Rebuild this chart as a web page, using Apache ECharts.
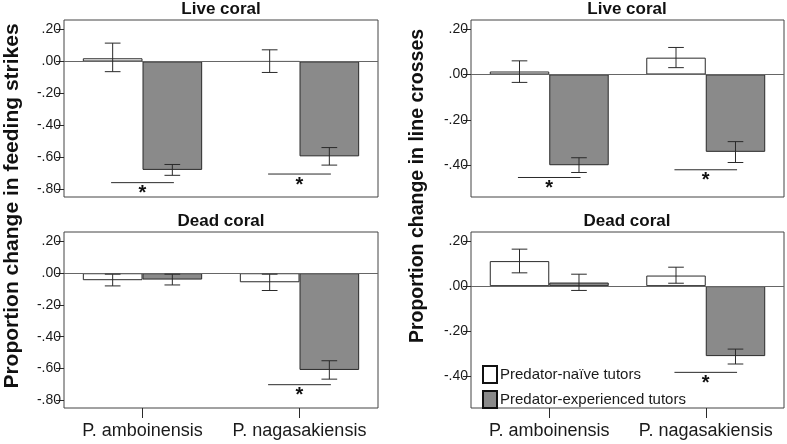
<!DOCTYPE html>
<html>
<head>
<meta charset="utf-8">
<script src="https://cdn.jsdelivr.net/npm/echarts@6/dist/echarts.min.js"></script>
<style>
  html, body { margin: 0; padding: 0; background: #fff; }
  #chart { width: 787px; height: 444px; }
</style>
</head>
<body>
<div id="chart"></div>
<script>
const categories = ['P. amboinensis', 'P. nagasakiensis']
const seriesNames = ['Predator-naïve tutors', 'Predator-experienced tutors']
const tickValuesLeft = [0.2, 0, -0.2, -0.4, -0.6, -0.8]
const tickValuesRight = [0.2, 0, -0.2, -0.4]

// feeding strikes
const feedLiveNaive = [0.02, 0.0]
const feedLiveNaiveErr = [[-0.064, 0.115], [-0.069, 0.073]]
const feedLiveExp = [-0.68, -0.595]
const feedLiveExpErr = [[-0.714, -0.646], [-0.65, -0.54]]
const feedLiveSig = [-0.76, -0.706]

const feedDeadNaive = [-0.044, -0.057]
const feedDeadNaiveErr = [[-0.08, -0.006], [-0.109, -0.006]]
const feedDeadExp = [-0.04, -0.61]
const feedDeadExpErr = [[-0.074, -0.006], [-0.668, -0.552]]
const feedDeadSig = [null, -0.703]

// line crosses
const crossLiveNaive = [0.013, 0.074]
const crossLiveNaiveErr = [[-0.035, 0.06], [0.03, 0.119]]
const crossLiveExp = [-0.40, -0.341]
const crossLiveExpErr = [[-0.432, -0.367], [-0.388, -0.296]]
const crossLiveSig = [-0.454, -0.42]

const crossDeadNaive = [0.111, 0.047]
const crossDeadNaiveErr = [[0.059, 0.164], [0.013, 0.084]]
const crossDeadExp = [0.016, -0.31]
const crossDeadExpErr = [[-0.019, 0.053], [-0.345, -0.279]]
const crossDeadSig = [null, -0.382]

const FONT = 'Liberation Sans, Arial, sans-serif'
const DARK = '#2a2a2a'

const panels = [
    { grid: { left: 64, top: 20, width: 314, height: 177 }, min: -0.85, max: 0.26, ticks: tickValuesLeft, bottom: false,
      naive: feedLiveNaive, naiveErr: feedLiveNaiveErr, exp: feedLiveExp, expErr: feedLiveExpErr, sig: feedLiveSig },
    { grid: { left: 64, top: 232, width: 314, height: 176 }, min: -0.85, max: 0.26, ticks: tickValuesLeft, bottom: true,
      naive: feedDeadNaive, naiveErr: feedDeadNaiveErr, exp: feedDeadExp, expErr: feedDeadExpErr, sig: feedDeadSig },
    { grid: { left: 471, top: 20, width: 313, height: 177 }, min: -0.54, max: 0.24, ticks: tickValuesRight, bottom: false,
      naive: crossLiveNaive, naiveErr: crossLiveNaiveErr, exp: crossLiveExp, expErr: crossLiveExpErr, sig: crossLiveSig },
    { grid: { left: 471, top: 232, width: 313, height: 176 }, min: -0.54, max: 0.24, ticks: tickValuesRight, bottom: true,
      naive: crossDeadNaive, naiveErr: crossDeadNaiveErr, exp: crossDeadExp, expErr: crossDeadExpErr, sig: crossDeadSig }
]

const fmtTick = v => v.toFixed(2).replace('0.', '.')

// error bar drawn through the category scale, side -1 = left bar, +1 = right bar
const errRender = side => (params, api) => {
    const band = api.size([1, 0])[0]
    const x = api.coord([api.value(0), 0])[0] + side * band * 0.19
    const lo = api.coord([api.value(0), api.value(1)])[1]
    const hi = api.coord([api.value(0), api.value(2)])[1]
    const cap = band * 0.05
    const st = { stroke: DARK, lineWidth: 1 }
    return {
        type: 'group',
        children: [
            { type: 'line', shape: { x1: x, y1: lo, x2: x, y2: hi }, style: st },
            { type: 'line', shape: { x1: x - cap, y1: lo, x2: x + cap, y2: lo }, style: st },
            { type: 'line', shape: { x1: x - cap, y1: hi, x2: x + cap, y2: hi }, style: st }
        ]
    }
}

const sigRender = (params, api) => {
    const band = api.size([1, 0])[0]
    const p = api.coord([api.value(0), api.value(1)])
    const half = band * 0.2
    return {
        type: 'group',
        children: [
            { type: 'line', shape: { x1: p[0] - half, y1: p[1], x2: p[0] + half, y2: p[1] }, style: { stroke: DARK, lineWidth: 1 } },
            { type: 'text', x: p[0], y: p[1] + 1, style: { text: '*', fill: '#111', font: 'bold 20px ' + FONT, textAlign: 'center', textVerticalAlign: 'top' } }
        ]
    }
}

const grids = []
const xAxes = []
const yAxes = []
const series = []

panels.forEach((p, i) => {
    grids.push(Object.assign({ show: true, borderColor: '#444', borderWidth: 1, backgroundColor: '#fff' }, p.grid))
    xAxes.push({
        type: 'category', gridIndex: i, data: categories,
        axisLine: { show: false, onZero: false },
        axisTick: { show: p.bottom, alignWithLabel: true, length: 10, lineStyle: { color: DARK } },
        axisLabel: { show: p.bottom, interval: 0, hideOverlap: false, fontFamily: FONT, fontSize: 18, color: '#1a1a1a', margin: 14 }
    })
    yAxes.push({
        type: 'value', gridIndex: i, min: p.min, max: p.max,
        axisLine: { show: false },
        splitLine: { show: false },
        axisTick: { show: true, length: 8, customValues: p.ticks, lineStyle: { color: DARK } },
        axisLabel: { customValues: p.ticks, formatter: fmtTick, fontFamily: FONT, fontSize: 14, color: '#1a1a1a', margin: 3 }
    })
    series.push({
        name: seriesNames[0], type: 'bar', xAxisIndex: i, yAxisIndex: i, data: p.naive,
        barWidth: '38%', barGap: '0%',
        itemStyle: { color: '#ffffff', borderColor: DARK, borderWidth: 1 },
        markLine: { silent: true, symbol: 'none', label: { show: false }, lineStyle: { color: '#666', width: 1, type: 'solid' }, data: [{ yAxis: 0 }] },
        z: 2
    })
    series.push({
        name: seriesNames[1], type: 'bar', xAxisIndex: i, yAxisIndex: i, data: p.exp,
        barWidth: '38%', barGap: '0%',
        itemStyle: { color: '#8a8a8a', borderColor: DARK, borderWidth: 1 },
        z: 2
    })
    series.push({
        type: 'custom', xAxisIndex: i, yAxisIndex: i, renderItem: errRender(-1), z: 5,
        data: p.naiveErr.map((e, k) => [k, e[0], e[1]])
    })
    series.push({
        type: 'custom', xAxisIndex: i, yAxisIndex: i, renderItem: errRender(1), z: 5,
        data: p.expErr.map((e, k) => [k, e[0], e[1]])
    })
    series.push({
        type: 'custom', xAxisIndex: i, yAxisIndex: i, renderItem: sigRender, z: 5,
        data: p.sig.map((v, k) => [k, v]).filter(d => d[1] !== null)
    })
})

const titleStyle = size => ({ font: 'bold ' + size + 'px ' + FONT, fill: '#111', textAlign: 'center', textVerticalAlign: 'middle' })

const myChart = echarts.init(document.getElementById('chart'))
myChart.setOption({
    animation: false,
    backgroundColor: '#fff',
    grid: grids,
    xAxis: xAxes,
    yAxis: yAxes,
    series,
    legend: {
        data: seriesNames,
        orient: 'vertical',
        left: 477, top: 360,
        icon: 'rect',
        itemWidth: 14, itemHeight: 17, itemGap: 6,
        itemStyle: { borderColor: '#111', borderWidth: 2 },
        textStyle: { fontFamily: FONT, fontSize: 15, color: '#1a1a1a', padding: [0, 0, 0, -2] }
    },
    graphic: [
        { type: 'text', x: 221, y: 9, style: Object.assign({ text: 'Live coral' }, titleStyle(17)) },
        { type: 'text', x: 221, y: 221, style: Object.assign({ text: 'Dead coral' }, titleStyle(17)) },
        { type: 'text', x: 627, y: 9, style: Object.assign({ text: 'Live coral' }, titleStyle(17)) },
        { type: 'text', x: 627, y: 221, style: Object.assign({ text: 'Dead coral' }, titleStyle(17)) },
        { type: 'text', x: 12, y: 206, rotation: Math.PI / 2, style: Object.assign({ text: 'Proportion change in feeding strikes' }, titleStyle(21)) },
        { type: 'text', x: 418, y: 186, rotation: Math.PI / 2, style: Object.assign({ text: 'Proportion change in line crosses' }, titleStyle(19.5)) }
    ]
})
</script>
</body>
</html>
